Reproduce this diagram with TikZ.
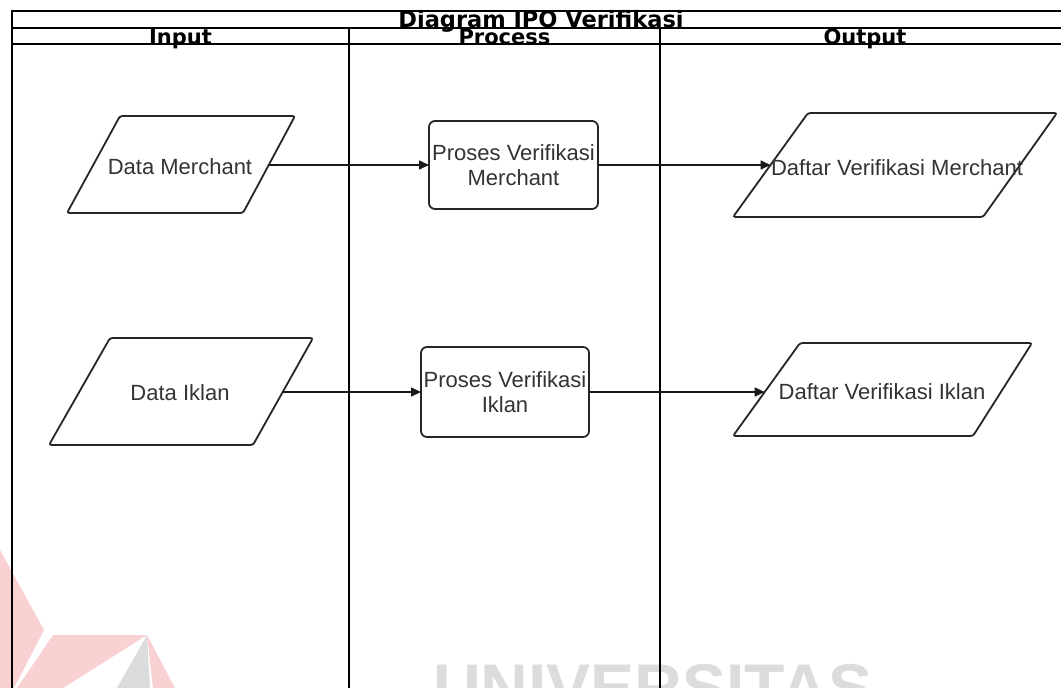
\documentclass[tikz,border=0pt]{standalone}
\usepackage{fontspec}
\setmainfont{Liberation Sans}
\newfontfamily\headfont{DejaVu Sans}
\usetikzlibrary{calc,arrows.meta}

\definecolor{inkgray}{HTML}{333333}
\definecolor{markpink}{HTML}{F9D1D3}
\definecolor{markgray}{HTML}{DCDCDC}

\tikzset{
  lane/.style={line width=2pt, draw=black},
  headtext/.style={font=\headfont\bfseries\fontsize{21}{21}\selectfont, anchor=base, inner sep=0pt},
  titletext/.style={headtext, font=\headfont\bfseries\fontsize{22.5}{22.5}\selectfont},
  body/.style={font=\fontsize{22}{25}\selectfont, text=inkgray, align=center, inner sep=0pt},
  ioline/.style={draw=black!85, line width=1.8pt, rounded corners=2.5pt},
  procbox/.style={body, rectangle, draw=black!85, line width=1.8pt, rounded corners=6pt,
    outer sep=0pt},
  flow/.style={line width=1.6pt, draw=black!90, -{Triangle[length=10pt,width=9pt]}},
}

\begin{document}
\begin{tikzpicture}[x=1pt,y=-1pt]
  \useasboundingbox (0,0) rectangle (1061,688);
  \fill[white] (0,0) rectangle (1061,688);

  % faint emblem and lettering in the lower area
  \fill[markpink] (0,550) -- (44,630) -- (14,688) -- (0,688) -- cycle;
  \fill[markpink] (53,635) -- (147,635) -- (63,688) -- (17,688) -- cycle;
  \fill[markgray] (147,635) -- (150,688) -- (117,688) -- cycle;
  \fill[markpink] (147,635) -- (175,688) -- (153,688) -- cycle;
  \node[anchor=base west, inner sep=0pt, text=markgray,
        font=\bfseries\fontsize{66}{66}\selectfont] (mark) at (433,710) {UNIVERSITAS};

  % swimlane frame
  \draw[lane] (12,688) -- (12,11) -- (1075,11);
  \draw[lane] (12,28) -- (1075,28);
  \draw[lane] (12,44) -- (1075,44);
  \draw[lane] (349,28) -- (349,688);
  \draw[lane] (660,28) -- (660,688);

  % headings
  \node[titletext] (title) at (541,27.5) {Diagram IPO Verifikasi};
  \node[headtext] (hin) at (180.5,44) {Input};
  \node[headtext] (hproc) at (504.5,44) {Process};
  \node[headtext] (hout) at (865,44) {Output};

  % input column: data parallelograms
  \coordinate (dm-tl) at (120,116); \coordinate (dm-tr) at (295,116);
  \coordinate (dm-br) at (243,213); \coordinate (dm-bl) at (67,213);
  \draw[ioline] (dm-tl) -- (dm-tr) -- (dm-br) -- (dm-bl) -- cycle;
  \node[body] (dm) at (180,167) {Data Merchant};
  \coordinate (dm-out) at ($(dm-tr)!0.505!(dm-br)$);

  \coordinate (di-tl) at (110,338); \coordinate (di-tr) at (313,338);
  \coordinate (di-br) at (253,445); \coordinate (di-bl) at (49,445);
  \draw[ioline] (di-tl) -- (di-tr) -- (di-br) -- (di-bl) -- cycle;
  \node[body] (di) at (180,393) {Data Iklan};
  \coordinate (di-out) at ($(di-tr)!0.505!(di-br)$);

  % process column
  \node[procbox, minimum width=169pt, minimum height=88pt]
        (pm) at (513.5,165) {Proses Verifikasi\\Merchant};
  \node[procbox, minimum width=168pt, minimum height=90pt]
        (pi) at (505,392) {Proses Verifikasi\\Iklan};

  % output column: result parallelograms
  \coordinate (om-tl) at (808,113); \coordinate (om-tr) at (1057,113);
  \coordinate (om-br) at (983,217); \coordinate (om-bl) at (733,217);
  \draw[ioline] (om-tl) -- (om-tr) -- (om-br) -- (om-bl) -- cycle;
  \node[body] (om) at (897,168) {Daftar Verifikasi Merchant};
  \coordinate (om-in) at ($(om-tl)!0.5!(om-bl)$);

  \coordinate (oi-tl) at (800,343); \coordinate (oi-tr) at (1032,343);
  \coordinate (oi-br) at (973,436); \coordinate (oi-bl) at (733,436);
  \draw[ioline] (oi-tl) -- (oi-tr) -- (oi-br) -- (oi-bl) -- cycle;
  \node[body] (oi) at (882,392) {Daftar Verifikasi Iklan};
  \coordinate (oi-in) at ($(oi-tl)!0.527!(oi-bl)$);

  % connectors
  \draw[flow] (dm-out) -- (pm.west);
  \draw[flow] (pm.east) -- (om-in);
  \draw[flow] (di-out) -- (pi.west);
  \draw[flow] (pi.east) -- (oi-in);
\end{tikzpicture}
\end{document}
